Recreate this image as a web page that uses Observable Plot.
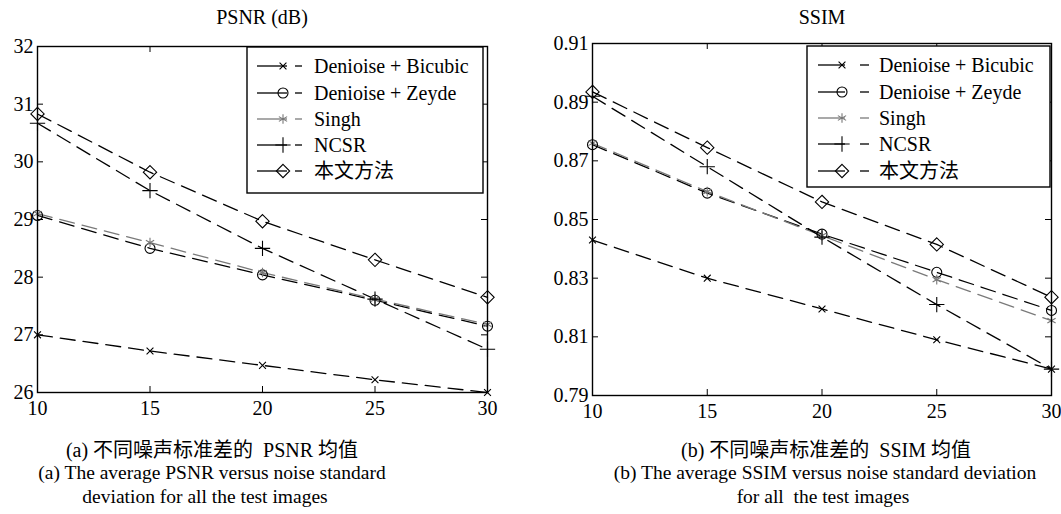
<!DOCTYPE html>
<html><head><meta charset="utf-8">
<script src="https://cdn.jsdelivr.net/npm/d3@7"></script>
<script src="https://cdn.jsdelivr.net/npm/@observablehq/plot@0.6"></script>
<style>
body{margin:0;background:#fff;}
#root{position:relative;width:1061px;height:514px;overflow:hidden;background:#fff;color:#000;
  font-family:"Liberation Serif","Noto Sans CJK SC",serif;}
.txt{position:absolute;white-space:pre;transform:translate(-50%,-50%);line-height:1;}
.title{font-size:20px;}
.cap{font-size:19.5px;}
.cjk{font-size:20px;}
svg text{font-family:"Liberation Serif","Noto Sans CJK SC",serif;}
</style></head><body><div id="root"></div>
<script>
// ---------------- data ----------------
const noiseLevels = [10, 15, 20, 25, 30];
const seriesNames = ["Denioise + Bicubic", "Denioise + Zeyde", "Singh", "NCSR", "本文方法"];
const psnrTicks = [26, 27, 28, 29, 30, 31, 32];
const ssimTicks = [0.79, 0.81, 0.83, 0.85, 0.87, 0.89, 0.91];

const psnrBicubic = [27.00, 26.72, 26.47, 26.22, 26.00];
const psnrZeyde   = [29.07, 28.50, 28.04, 27.60, 27.15];
const psnrSingh   = [29.10, 28.60, 28.08, 27.62, 27.18];
const psnrNCSR    = [30.67, 29.50, 28.50, 27.62, 26.75];
const psnrOurs    = [30.83, 29.82, 28.97, 28.30, 27.65];

const ssimBicubic = [0.843, 0.830, 0.8195, 0.809, 0.799];
const ssimZeyde   = [0.8755, 0.859, 0.845, 0.832, 0.819];
const ssimSingh   = [0.876, 0.8595, 0.8445, 0.8295, 0.8155];
const ssimNCSR    = [0.892, 0.868, 0.844, 0.821, 0.799];
const ssimOurs    = [0.8935, 0.8745, 0.856, 0.8415, 0.8235];

// ---------------- styles ----------------
const styles = [
  {symbol: "times",    r: 3.2, stroke: "#000", fill: "none"},
  {symbol: "circle",   r: 5,   stroke: "#000", fill: "none"},
  {symbol: "asterisk", r: 4.5, stroke: "#777", fill: "#777"},
  {symbol: "plus",     r: 5,   stroke: "#000", fill: "none"},
  {symbol: "diamond2", r: 6,   stroke: "#000", fill: "none"}
];
const lineColor = ["#000", "#000", "#7a7a7a", "#000", "#000"];
const dash = "15,8";
const FONT = "Liberation Serif, Noto Sans CJK SC, serif";

function rowsOf(values) { return noiseLevels.map((x, i) => ({x, y: values[i]})); }

function makePlot({left, top, width, height, mL, mR, mT, mB, yDomain, yTicks, yFormat, series}) {
  const iw = width - mL - mR, ih = height - mT - mB, tk = 6;
  const marks = [
    Plot.ruleY(yTicks, {y: d => d, stroke: "#000", strokeWidth: 1, insetRight: iw - tk}),
    Plot.ruleY(yTicks, {y: d => d, stroke: "#000", strokeWidth: 1, insetLeft: iw - tk}),
    Plot.ruleX(noiseLevels, {x: d => d, stroke: "#000", strokeWidth: 1, insetTop: ih - tk}),
    Plot.ruleX(noiseLevels, {x: d => d, stroke: "#000", strokeWidth: 1, insetBottom: ih - tk})
  ];
  series.forEach((vals, i) => {
    marks.push(Plot.line(rowsOf(vals), {x: "x", y: "y", stroke: lineColor[i], strokeWidth: 1.3, strokeDasharray: dash}));
  });
  series.forEach((vals, i) => {
    const s = styles[i];
    marks.push(Plot.dot(rowsOf(vals), {x: "x", y: "y", symbol: () => s.symbol, r: s.r, stroke: s.stroke, fill: s.fill, strokeWidth: 1.1}));
  });
  marks.push(Plot.frame({stroke: "#000", strokeWidth: 1.4}));
  marks.push(Plot.axisX({ticks: noiseLevels, tickSize: 0, tickPadding: 8, fontSize: 20, fontFamily: FONT, label: null}));
  marks.push(Plot.axisY({ticks: yTicks, tickSize: 0, tickPadding: 4, fontSize: 20, fontFamily: FONT, tickFormat: yFormat, label: null}));
  const svg = Plot.plot({
    width, height, marginLeft: mL, marginRight: mR, marginTop: mT, marginBottom: mB,
    x: {domain: [10, 30]},
    y: {domain: yDomain},
    symbol: {type: "identity"},
    style: {fontFamily: FONT, fontSize: "20px", background: "transparent", color: "#000", overflow: "visible"},
    marks
  });
  svg.style.position = "absolute";
  svg.style.left = left + "px";
  svg.style.top = top + "px";
  return svg;
}

const root = document.getElementById("root");

root.appendChild(makePlot({
  left: 0, top: 0, width: 530, height: 430, mL: 37, mR: 43, mT: 46, mB: 38,
  yDomain: [26, 32], yTicks: psnrTicks, yFormat: d => String(d),
  series: [psnrBicubic, psnrZeyde, psnrSingh, psnrNCSR, psnrOurs]
}));
root.appendChild(makePlot({
  left: 530, top: 0, width: 531, height: 433, mL: 62, mR: 10, mT: 43, mB: 38,
  yDomain: [0.79, 0.91], yTicks: ssimTicks, yFormat: d3.format(".2f"),
  series: [ssimBicubic, ssimZeyde, ssimSingh, ssimNCSR, ssimOurs]
}));

// ---------------- legends ----------------
const overlay = d3.create("svg").attr("width", 1061).attr("height", 514)
  .style("position", "absolute").style("left", "0px").style("top", "0px");
const symMap = {times: d3.symbolTimes, circle: d3.symbolCircle, asterisk: d3.symbolAsterisk, plus: d3.symbolPlus, diamond2: d3.symbolDiamond2};

function legend(box, rowsY, lx1, lx2, mx, dx1, dx2, tx) {
  overlay.append("rect").attr("x", box[0]).attr("y", box[1]).attr("width", box[2]).attr("height", box[3])
    .attr("fill", "#fff").attr("stroke", "#000").attr("stroke-width", 1.4);
  seriesNames.forEach((name, i) => {
    const y = rowsY[i], s = styles[i];
    overlay.append("line").attr("x1", lx1).attr("x2", lx2).attr("y1", y).attr("y2", y)
      .attr("stroke", lineColor[i]).attr("stroke-width", 1.3);
    overlay.append("path").attr("transform", `translate(${mx},${y})`)
      .attr("d", d3.symbol(symMap[s.symbol], s.r * s.r * Math.PI)())
      .attr("stroke", s.stroke).attr("fill", s.fill).attr("stroke-width", 1.1);
    overlay.append("line").attr("x1", dx1).attr("x2", dx2).attr("y1", y).attr("y2", y)
      .attr("stroke", lineColor[i]).attr("stroke-width", 1.3);
    overlay.append("text").attr("x", tx).attr("y", y).attr("dy", "0.35em")
      .attr("font-family", FONT).attr("font-size", 20).attr("fill", "#000").text(name);
  });
}
legend([247, 47, 236, 146], [66, 93, 119, 145, 171], 257, 287, 283, 295, 302, 314);
legend([807, 46, 243, 141], [65, 92, 118, 144, 171], 818, 845, 842, 860, 869, 879);
root.appendChild(overlay.node());

// ---------------- titles & captions ----------------
function addText(cls, txt, x, y) {
  const d = document.createElement("div");
  d.className = "txt " + cls;
  d.textContent = txt;
  d.style.left = x + "px";
  d.style.top = y + "px";
  root.appendChild(d);
}
addText("title", "PSNR (dB)", 262, 17);
addText("title", "SSIM", 822, 17);
addText("cap cjk", "(a) 不同噪声标准差的  PSNR 均值", 212, 450);
addText("cap", "(a) The average PSNR versus noise standard", 212, 473);
addText("cap", "deviation for all the test images", 205, 497);
addText("cap cjk", "(b) 不同噪声标准差的  SSIM 均值", 826, 450);
addText("cap", "(b) The average SSIM versus noise standard deviation", 825, 473);
addText("cap", "for all  the test images", 823, 497);
</script>
</body></html>
